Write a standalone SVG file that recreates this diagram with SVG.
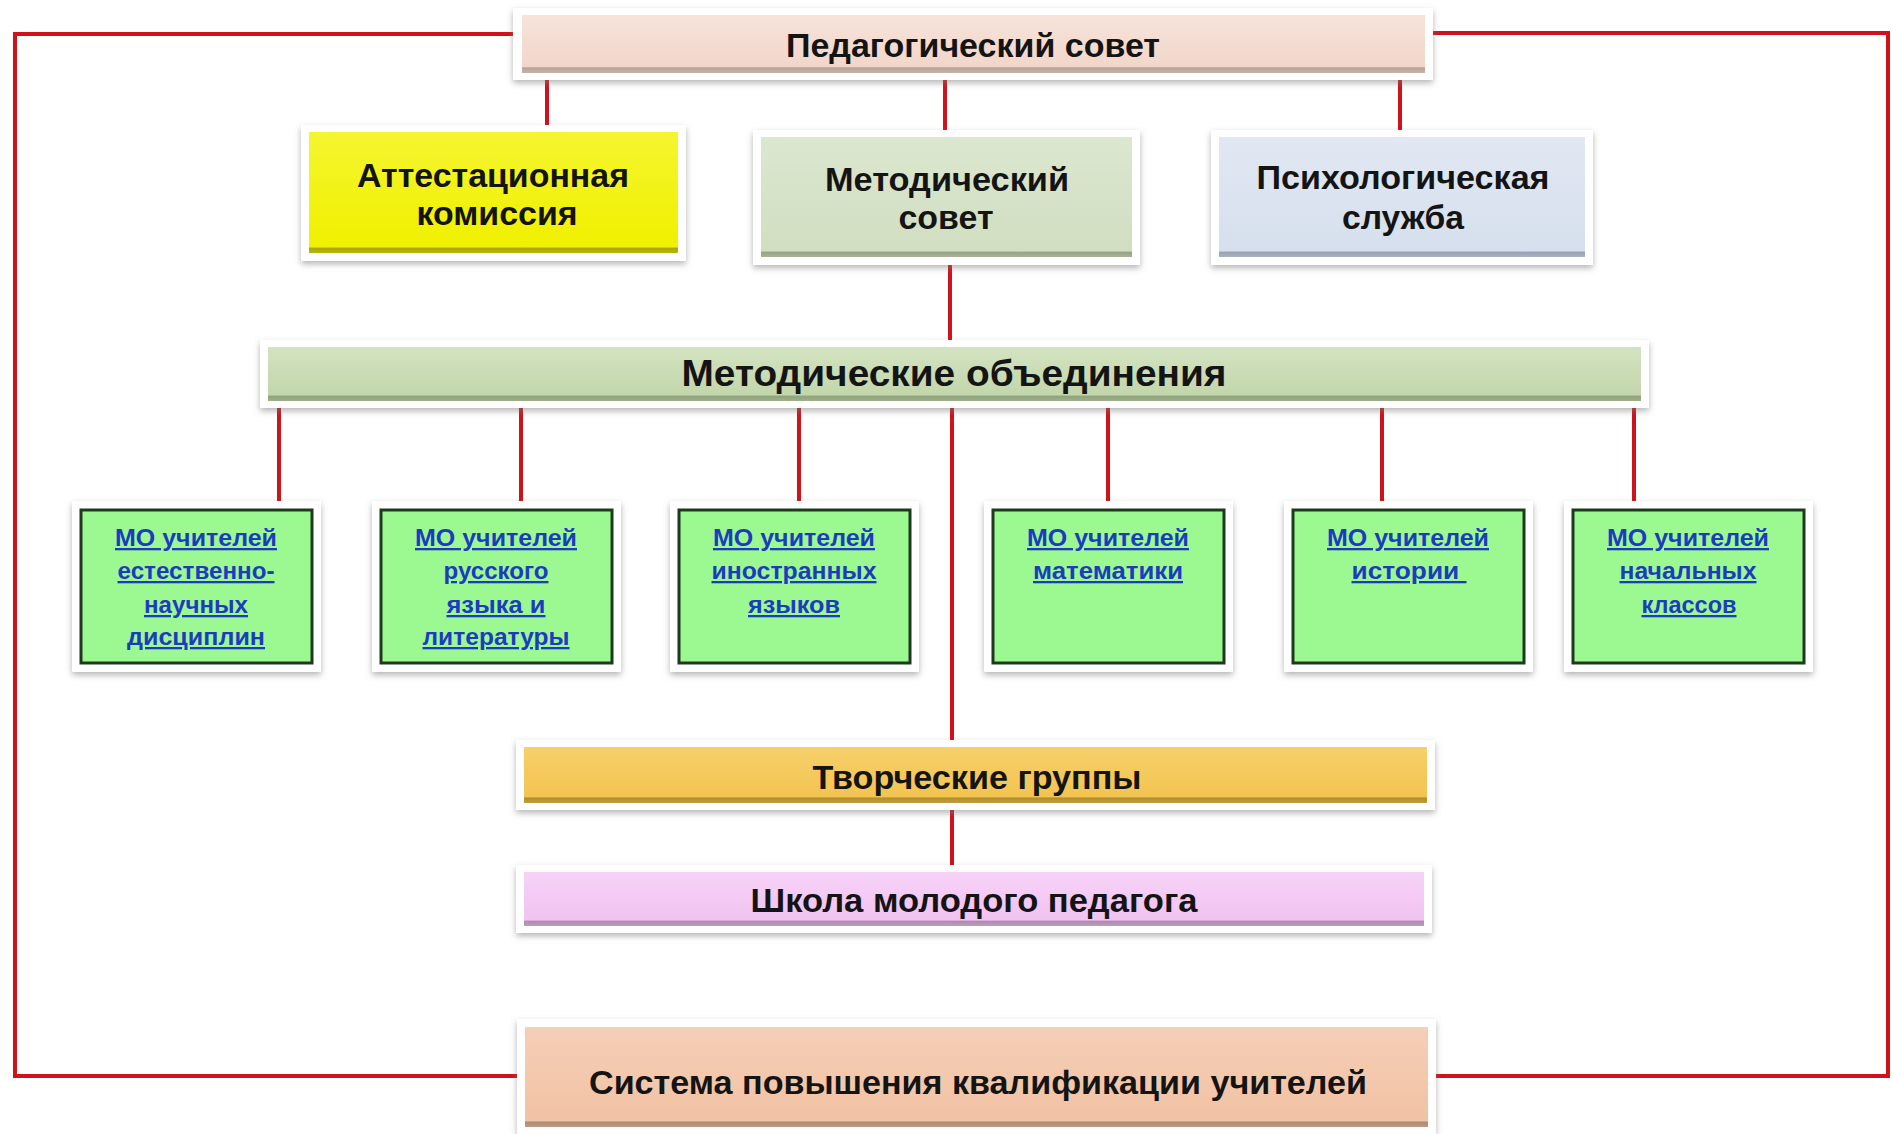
<svg xmlns="http://www.w3.org/2000/svg" width="1892" height="1134" viewBox="0 0 1892 1134">
<defs>
<filter id="sh" x="-5%" y="-20%" width="110%" height="150%">
<feDropShadow dx="0" dy="3" stdDeviation="3" flood-color="#777" flood-opacity="0.55"/>
</filter>
<linearGradient id="gPed" x1="0" y1="0" x2="0" y2="1"><stop offset="0" stop-color="#f7e3da"/><stop offset="0.89" stop-color="#f2d6ca"/><stop offset="0.91" stop-color="#b9a399"/><stop offset="1" stop-color="#c9b4aa"/></linearGradient>
<linearGradient id="gAtt" x1="0" y1="0" x2="0" y2="1"><stop offset="0" stop-color="#f5f530"/><stop offset="0.95" stop-color="#f0f000"/><stop offset="0.96" stop-color="#a8a800"/><stop offset="1" stop-color="#b8b810"/></linearGradient>
<linearGradient id="gMet" x1="0" y1="0" x2="0" y2="1"><stop offset="0" stop-color="#dce7cf"/><stop offset="0.95" stop-color="#d1dec1"/><stop offset="0.96" stop-color="#96a387"/><stop offset="1" stop-color="#a7b398"/></linearGradient>
<linearGradient id="gPsy" x1="0" y1="0" x2="0" y2="1"><stop offset="0" stop-color="#e1e8f3"/><stop offset="0.95" stop-color="#d6dfed"/><stop offset="0.96" stop-color="#98a2b2"/><stop offset="1" stop-color="#a9b2c1"/></linearGradient>
<linearGradient id="gMO" x1="0" y1="0" x2="0" y2="1"><stop offset="0" stop-color="#d3e3c1"/><stop offset="0.89" stop-color="#c2d6ab"/><stop offset="0.91" stop-color="#8ea37b"/><stop offset="1" stop-color="#9fb38b"/></linearGradient>
<linearGradient id="gTv" x1="0" y1="0" x2="0" y2="1"><stop offset="0" stop-color="#f7d06a"/><stop offset="0.89" stop-color="#f2c451"/><stop offset="0.91" stop-color="#b38d2e"/><stop offset="1" stop-color="#c29c3c"/></linearGradient>
<linearGradient id="gSh" x1="0" y1="0" x2="0" y2="1"><stop offset="0" stop-color="#f6d2f7"/><stop offset="0.89" stop-color="#f1c3f2"/><stop offset="0.91" stop-color="#ae8dae"/><stop offset="1" stop-color="#bd9dbd"/></linearGradient>
<linearGradient id="gSy" x1="0" y1="0" x2="0" y2="1"><stop offset="0" stop-color="#f5cfb6"/><stop offset="0.94" stop-color="#f1c2a4"/><stop offset="0.95" stop-color="#ad8a74"/><stop offset="1" stop-color="#bd9a84"/></linearGradient>
</defs>
<style>
.halo{fill:#ffffff;filter:url(#sh);}
.t{font-family:"Liberation Sans",Arial,sans-serif;font-weight:bold;fill:#141414;text-anchor:middle;}
.big{font-size:33px;}
.mo{fill:#9cf891;stroke:#1e3a1e;stroke-width:3;}
.ml{font-family:"Liberation Sans",Arial,sans-serif;font-weight:bold;font-size:23px;fill:#1c3cc0;text-anchor:middle;text-decoration:underline;white-space:pre;}
.c{stroke:#d0121a;stroke-width:4;fill:none;}
</style>

<g id="connectors">
<path class="c" d="M513,34 H15 V1076 H517"/>
<path class="c" d="M1433,33 H1888 V1076 H1436"/>
<line class="c" x1="547" y1="80" x2="547" y2="126"/>
<line class="c" x1="945" y1="80" x2="945" y2="130"/>
<line class="c" x1="1400" y1="80" x2="1400" y2="130"/>
<line class="c" x1="950" y1="264" x2="950" y2="340"/>
<line class="c" x1="279" y1="408" x2="279" y2="502"/>
<line class="c" x1="521" y1="408" x2="521" y2="502"/>
<line class="c" x1="799" y1="408" x2="799" y2="502"/>
<line class="c" x1="1108" y1="408" x2="1108" y2="502"/>
<line class="c" x1="1382" y1="408" x2="1382" y2="502"/>
<line class="c" x1="1634" y1="408" x2="1634" y2="502"/>
<line class="c" x1="952" y1="408" x2="952" y2="740"/>
<line class="c" x1="952" y1="810" x2="952" y2="865"/>
</g>

<g id="ped">
<rect class="halo" x="513" y="8" width="920" height="72"/>
<rect x="522" y="15" width="903" height="58" fill="url(#gPed)"/>
<text class="t big" x="973" y="57" textLength="374" lengthAdjust="spacingAndGlyphs">Педагогический совет</text>
</g>

<g id="attest">
<rect class="halo" x="301" y="125" width="385" height="136"/>
<rect x="309" y="132" width="369" height="121" fill="url(#gAtt)"/>
<text class="t big" x="493" y="187" textLength="272" lengthAdjust="spacingAndGlyphs">Аттестационная</text>
<text class="t big" x="497" y="225" textLength="161" lengthAdjust="spacingAndGlyphs">комиссия</text>
</g>

<g id="metsovet">
<rect class="halo" x="753" y="130" width="387" height="135"/>
<rect x="761" y="137" width="371" height="120" fill="url(#gMet)"/>
<text class="t big" x="947" y="191" textLength="244" lengthAdjust="spacingAndGlyphs">Методический</text>
<text class="t big" x="946" y="229" textLength="95" lengthAdjust="spacingAndGlyphs">совет</text>
</g>

<g id="psych">
<rect class="halo" x="1211" y="130" width="382" height="135"/>
<rect x="1219" y="137" width="366" height="120" fill="url(#gPsy)"/>
<text class="t big" x="1403" y="189" textLength="293" lengthAdjust="spacingAndGlyphs">Психологическая</text>
<text class="t big" x="1403" y="229" textLength="122" lengthAdjust="spacingAndGlyphs">служба</text>
</g>

<g id="mo-bar">
<rect class="halo" x="260" y="340" width="1389" height="68"/>
<rect x="268" y="347" width="1373" height="54" fill="url(#gMO)"/>
<text class="t" x="954" y="386" font-size="36" textLength="545" lengthAdjust="spacingAndGlyphs">Методические объединения</text>
</g>

<g id="mo1">
<rect class="halo" x="72" y="501" width="249" height="171"/>
<rect class="mo" x="81" y="510" width="231" height="153"/>
<text class="ml" x="196" y="546" textLength="162" lengthAdjust="spacingAndGlyphs">МО учителей</text>
<text class="ml" x="196" y="579" textLength="157" lengthAdjust="spacingAndGlyphs">естественно-</text>
<text class="ml" x="196" y="613" textLength="104" lengthAdjust="spacingAndGlyphs">научных</text>
<text class="ml" x="196" y="645" textLength="138" lengthAdjust="spacingAndGlyphs">дисциплин</text>
</g>

<g id="mo2">
<rect class="halo" x="372" y="501" width="249" height="171"/>
<rect class="mo" x="381" y="510" width="231" height="153"/>
<text class="ml" x="496" y="546" textLength="162" lengthAdjust="spacingAndGlyphs">МО учителей</text>
<text class="ml" x="496" y="579" textLength="105" lengthAdjust="spacingAndGlyphs">русского</text>
<text class="ml" x="496" y="613" textLength="99" lengthAdjust="spacingAndGlyphs">языка и</text>
<text class="ml" x="496" y="645" textLength="147" lengthAdjust="spacingAndGlyphs">литературы</text>
</g>

<g id="mo3">
<rect class="halo" x="670" y="501" width="249" height="171"/>
<rect class="mo" x="679" y="510" width="231" height="153"/>
<text class="ml" x="794" y="546" textLength="162" lengthAdjust="spacingAndGlyphs">МО учителей</text>
<text class="ml" x="794" y="579" textLength="165" lengthAdjust="spacingAndGlyphs">иностранных</text>
<text class="ml" x="794" y="613" textLength="92" lengthAdjust="spacingAndGlyphs">языков</text>
</g>

<g id="mo4">
<rect class="halo" x="984" y="501" width="249" height="171"/>
<rect class="mo" x="993" y="510" width="231" height="153"/>
<text class="ml" x="1108" y="546" textLength="162" lengthAdjust="spacingAndGlyphs">МО учителей</text>
<text class="ml" x="1108" y="579" textLength="150" lengthAdjust="spacingAndGlyphs">математики</text>
</g>

<g id="mo5">
<rect class="halo" x="1284" y="501" width="249" height="171"/>
<rect class="mo" x="1293" y="510" width="231" height="153"/>
<text class="ml" x="1408" y="546" textLength="162" lengthAdjust="spacingAndGlyphs">МО учителей</text>
<text class="ml" x="1409" y="579" textLength="115" lengthAdjust="spacingAndGlyphs">истории </text>
</g>

<g id="mo6">
<rect class="halo" x="1564" y="501" width="249" height="171"/>
<rect class="mo" x="1573" y="510" width="231" height="153"/>
<text class="ml" x="1688" y="546" textLength="162" lengthAdjust="spacingAndGlyphs">МО учителей</text>
<text class="ml" x="1688" y="579" textLength="137" lengthAdjust="spacingAndGlyphs">начальных</text>
<text class="ml" x="1689" y="613" textLength="95" lengthAdjust="spacingAndGlyphs">классов</text>
</g>

<g id="tvorch">
<rect class="halo" x="516" y="740" width="919" height="70"/>
<rect x="524" y="747" width="903" height="56" fill="url(#gTv)"/>
<text class="t big" x="977" y="789" textLength="329" lengthAdjust="spacingAndGlyphs">Творческие группы</text>
</g>

<g id="shkola">
<rect class="halo" x="516" y="865" width="916" height="68"/>
<rect x="524" y="872" width="900" height="54" fill="url(#gSh)"/>
<text class="t big" x="974" y="912" textLength="447" lengthAdjust="spacingAndGlyphs">Школа молодого педагога</text>
</g>

<g id="sistema">
<rect class="halo" x="517" y="1019" width="919" height="115"/>
<rect x="525" y="1027" width="903" height="100" fill="url(#gSy)"/>
<text class="t big" x="978" y="1094" textLength="778" lengthAdjust="spacingAndGlyphs">Система повышения квалификации учителей</text>
</g>
</svg>
